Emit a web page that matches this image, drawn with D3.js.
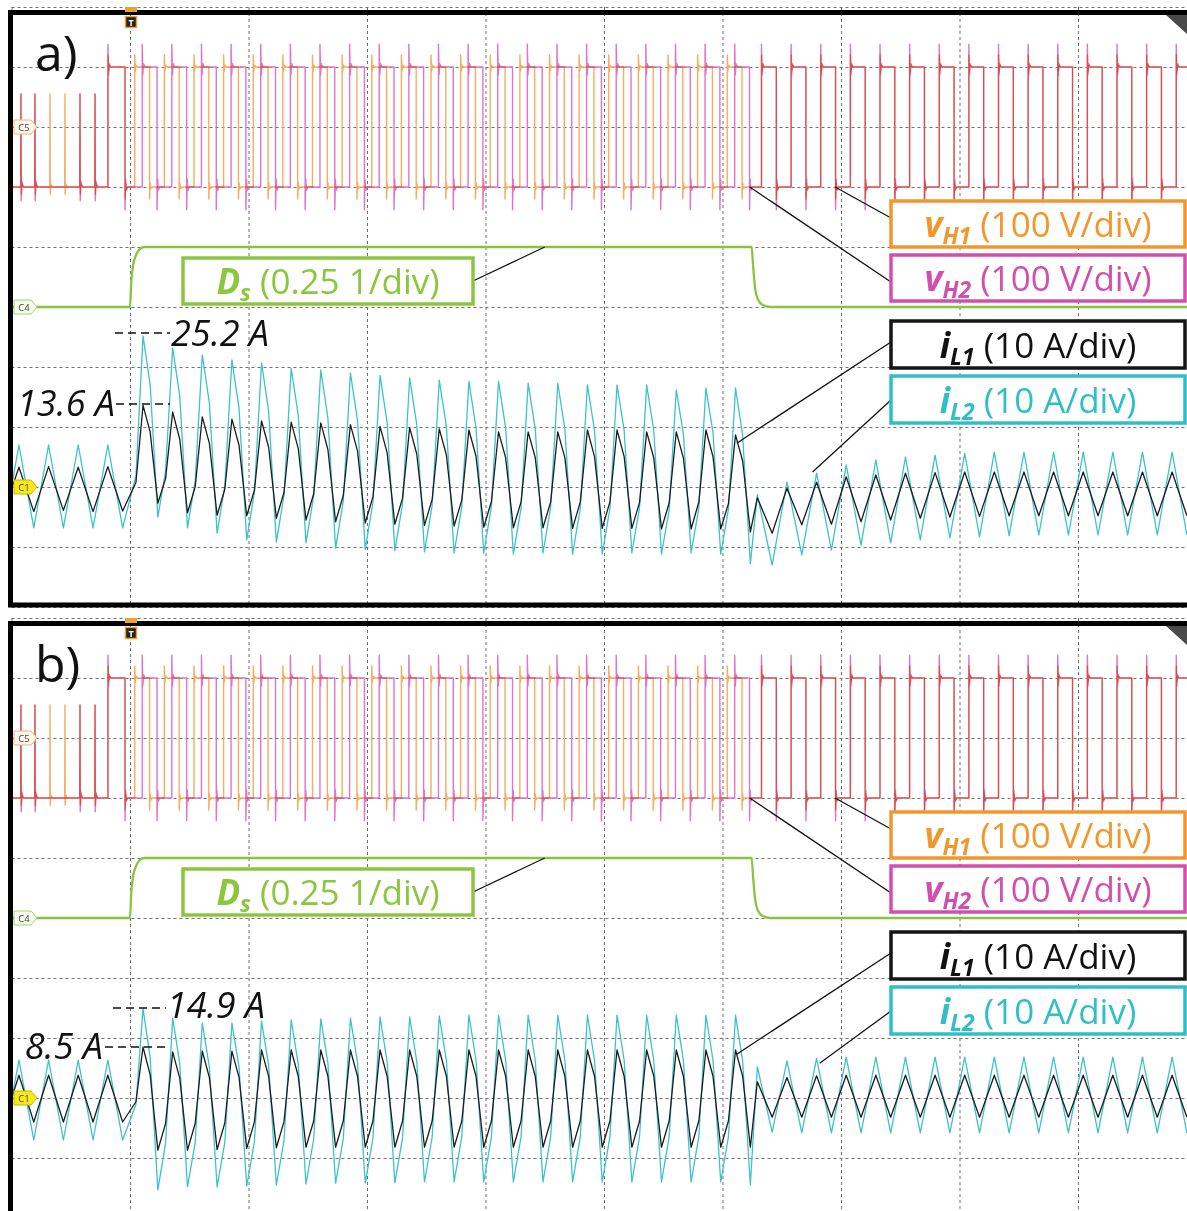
<!DOCTYPE html>
<meta charset="utf-8">
<style>
    body { margin: 0; background: #fff; }
    svg { display: block; font-family: "Open Sans", sans-serif; }
    .grid line { stroke: #707070; stroke-width: 1; stroke-dasharray: 3,3; }
    .grid path { display: none; }
    .frame { fill: none; stroke: #000; stroke-width: 5; }
    .trace { fill: none; stroke-linejoin: round; }
    .vh { mix-blend-mode: multiply; stroke-width: 1.4; }
    .box { fill: #fff; stroke-width: 3.5; }
    .lbl { font-size: 35px; text-anchor: middle; }
    .leader { stroke: #111; stroke-width: 1.3; }
    .note { font-size: 36px; font-style: italic; fill: #111; }
    .notedash { stroke: #111; stroke-width: 1.4; stroke-dasharray: 8,5; }
</style>
<svg width="1187" height="1211"></svg>
<script src="https://d3js.org/d3.v7.min.js"></script>
<script>

    // time base: 10 div across the screen, trigger at 1 div, 4 switching cycles per div
    var period = 0.25,
        preFirstValley = -0.062,
        transFirstPeak = 1.11,
        postFirstPeak = 6.294;

    // ---- panel a) inductor current extremes per switching cycle (A)
    var aIL1PrePk = [3.3, 3.4, 3.3, 3.4];
    var aIL1PreVy = [-4.0, -4.1, -3.9, -4.1, -4.0];
    var aIL1Pk = [13.6, 12.5, 11.7, 11.3, 11.0, 10.8, 10.7, 10.4, 10.1, 9.9, 9.7, 9.5, 9.2, 9.2, 9.2, 9.5, 9.5, 9.2, 9.2, 9.5, 8.7];
    var aIL1Vy = [-2.7, -4.3, -4.7, -4.8, -5.2, -5.5, -5.8, -6.0, -6.2, -6.4, -6.5, -6.7, -6.8, -6.8, -6.9, -6.9, -6.9, -7.0, -7.0, -7.0, -7.5];
    var aIL1PostPk = [-1.8, -0.2, 0.8, 1.7, 2.0, 2.3, 2.4, 2.5, 2.5, 2.5, 2.5, 2.5, 2.5, 2.5, 2.5];
    var aIL1PostVy = [-7.7, -6.3, -6.2, -5.8, -5.5, -5.2, -5.0, -4.9, -4.8, -4.8, -4.8, -4.8, -4.8, -4.8, -4.8];

    var aIL2PrePk = [7.0, 7.0, 7.0, 7.0];
    var aIL2PreVy = [-6.8, -6.8, -6.8, -6.8, -6.8];
    var aIL2Pk = [25.2, 23.2, 22.0, 21.2, 20.7, 19.8, 19.5, 19.0, 18.6, 18.2, 17.8, 17.6, 17.6, 17.3, 17.3, 17.0, 17.0, 17.0, 16.2, 16.5, 16.5];
    var aIL2Vy = [-5.0, -6.8, -7.7, -8.8, -9.2, -9.3, -10.2, -10.4, -10.6, -10.8, -11.0, -11.0, -11.2, -11.0, -11.2, -11.2, -11.0, -11.2, -11.0, -11.2, -12.8];
    var aIL2PostPk = [-1.3, 0.8, 2.3, 3.7, 4.5, 5.0, 5.3, 5.6, 5.8, 5.8, 5.8, 5.8, 5.8, 5.8, 5.8];
    var aIL2PostVy = [-13.0, -11.3, -10.5, -9.7, -9.3, -8.8, -8.5, -8.3, -8.1, -8.0, -8.0, -8.0, -8.0, -8.0, -8.0];

    // ---- panel b)
    var bIL1PrePk = [3.8, 3.8, 3.8, 3.8];
    var bIL1PreVy = [-4.0, -4.0, -4.0, -4.0, -4.0];
    var bIL1Pk = [8.5, 7.7, 7.8, 7.8, 8.0, 8.0, 8.0, 8.0, 8.0, 8.0, 8.0, 8.0, 8.0, 8.0, 8.0, 8.0, 8.0, 8.0, 8.0, 8.0, 8.0];
    var bIL1Vy = [-8.7, -8.7, -8.6, -8.4, -8.3, -8.2, -8.2, -8.2, -8.2, -8.2, -8.2, -8.2, -8.2, -8.2, -8.2, -8.2, -8.2, -8.2, -8.2, -8.2, -8.2];
    var bIL1PostPk = [2.7, 3.4, 3.7, 3.8, 3.8, 3.8, 3.8, 3.8, 3.8, 3.8, 3.8, 3.8, 3.8, 3.8, 3.8];
    var bIL1PostVy = [-3.2, -3.2, -3.2, -3.2, -3.2, -3.2, -3.2, -3.2, -3.2, -3.2, -3.2, -3.2, -3.2, -3.2, -3.2];

    var bIL2PrePk = [6.3, 6.3, 6.3, 6.3];
    var bIL2PreVy = [-7.0, -7.0, -7.0, -7.0, -7.0];
    var bIL2Pk = [14.9, 13.3, 12.5, 12.5, 12.8, 13.0, 13.2, 13.3, 13.5, 13.5, 13.7, 13.8, 13.8, 13.8, 13.8, 13.8, 13.8, 13.8, 13.8, 13.8, 13.8];
    var bIL2Vy = [-15.3, -14.8, -14.8, -14.7, -14.5, -14.3, -14.2, -14.2, -14.1, -14.0, -14.0, -14.0, -14.0, -14.0, -14.0, -14.0, -14.0, -14.0, -14.0, -14.0, -14.5];
    var bIL2PostPk = [5.2, 6.2, 6.6, 6.8, 6.8, 6.8, 6.8, 6.8, 6.8, 6.8, 6.8, 6.8, 6.8, 6.8, 6.8];
    var bIL2PostVy = [-5.7, -5.8, -5.8, -5.8, -5.8, -5.8, -5.8, -5.8, -5.8, -5.8, -5.8, -5.8, -5.8, -5.8, -5.8];

    // ---- bridge voltages (V), same in both panels
    var vhHigh = 100, vhLow = -100, prePulseTop = 55;
    var vh1PrePulse = [0.08, 0.198, 0.325, 0.451, 0.578, 0.705];
    var vh2PrePulse = [0.08, 0.198, 0.578, 0.705];
    var fullPulse = [0.814, 0.958];
    var vhSegStart = [1.0, 6.25], vhSegEnd = [6.25, 10.05];
    var vh1Phase = [0.040, 0.079], vh2Phase = [0.103, 0.079];
    var vh1Spike = 20, vh2Spike = 38;

    // ---- phase shift Ds (1)
    var dsTime  = [0, 1.0, 1.01, 1.025, 1.05, 1.08, 1.12, 6.245, 6.26, 6.275, 6.3, 6.34, 6.4, 10];
    var dsValue = [0, 0, 0.10, 0.17, 0.215, 0.24, 0.25, 0.25, 0.16, 0.08, 0.03, 0.008, 0, 0];

    var panels = [
        { name: "a)", top: 0, iL1: [aIL1PrePk, aIL1PreVy, aIL1Pk, aIL1Vy, aIL1PostPk, aIL1PostVy],
          iL2: [aIL2PrePk, aIL2PreVy, aIL2Pk, aIL2Vy, aIL2PostPk, aIL2PostVy],
          hi: "25.2 A", lo: "13.6 A", iL2Anchor: [6.76, 2.5] },
        { name: "b)", top: 611, iL1: [bIL1PrePk, bIL1PreVy, bIL1Pk, bIL1Vy, bIL1PostPk, bIL1PostVy],
          iL2: [bIL2PrePk, bIL2PreVy, bIL2Pk, bIL2Vy, bIL2PostPk, bIL2PostVy],
          hi: "14.9 A", lo: "8.5 A", iL2Anchor: [6.82, 5.8] }
    ];

    var svg = d3.select("svg");

    var x = d3.scaleLinear().domain([0, 10]).range([11.5, 1196.5]),
        yDiv = d3.scaleLinear().domain([-5, 5]).range([607, 7]);

    function yVh(v) { return yDiv(3 + v / 100); }
    function yDs(d) { return yDiv(d / 0.25); }
    function yI(i) { return yDiv(-3 + i / 10); }

    var kinkDt = 0.06, kinkRise = 0.27, kinkFall = 0.27;

    function currentPoints(s) {
        var prePk = s[0], preVy = s[1], pk = s[2], vy = s[3], postPk = s[4], postVy = s[5];
        var pts = [];
        preVy.forEach(function (v, k) {
            pts.push([preFirstValley + k * period, v]);
            if (k < prePk.length) pts.push([preFirstValley + period / 2 + k * period, prePk[k]]);
        });
        pk.forEach(function (p, k) {
            var t = transFirstPeak + k * period,
                v0 = pts[pts.length - 1][1];
            pts.push([t - kinkDt, v0 + kinkRise * (p - v0)]);
            pts.push([t, p]);
            pts.push([t + kinkDt, p - kinkFall * (p - vy[k])]);
            pts.push([t + period / 2, vy[k]]);
        });
        postPk.forEach(function (p, k) {
            var t = postFirstPeak + k * period;
            pts.push([t, p]);
            pts.push([t + period / 2, postVy[k]]);
        });
        return pts;
    }

    function highIntervals(phases) {
        var out = [fullPulse];
        vhSegStart.forEach(function (s0, j) {
            var r = phases[j] + Math.ceil((s0 - phases[j]) / period) * period;
            for (; r < vhSegEnd[j]; r += period) out.push([r, r + period / 2]);
        });
        return out;
    }

    function edge(pts, t, from, to, spike) {
        var s = to > from ? 1 : -1;
        pts.push([t, from], [t, to + s * spike], [t + 0.005, to - s * spike * 0.35],
            [t + 0.011, to + s * spike * 0.15], [t + 0.022, to]);
    }

    function vhPoints(pulses, phases, spike) {
        var pts = [[-0.1, vhLow]];
        pulses.forEach(function (t) {
            pts.push([t - 0.002, vhLow], [t, prePulseTop], [t + 0.002, vhLow - spike * 0.6],
                [t + 0.008, vhLow + spike * 0.25], [t + 0.02, vhLow]);
        });
        highIntervals(phases).forEach(function (iv) {
            edge(pts, iv[0], vhLow, vhHigh, spike);
            edge(pts, iv[1], vhHigh, vhLow, spike);
        });
        pts.push([10.2, vhLow]);
        return pts;
    }

    var line = d3.line();

    function drawPanel(P, pi) {
        var g = svg.append("g").attr("transform", "translate(0," + P.top + ")");

        g.append("clipPath").attr("id", "clip" + pi)
            .append("rect").attr("x", 12).attr("y", 14).attr("width", 1180).attr("height", 589);

        // graticule
        g.append("g").attr("class", "grid").attr("transform", "translate(0,7)")
            .call(d3.axisBottom(x).ticks(10).tickSize(600).tickFormat(""));
        g.append("g").attr("class", "grid").attr("transform", "translate(11.5,0)")
            .call(d3.axisRight(yDiv).ticks(10).tickSize(1185).tickFormat(""));

        var tr = g.append("g").attr("clip-path", "url(#clip" + pi + ")");

        // Ds
        tr.append("path").attr("class", "trace")
            .attr("stroke", "#88c43f").attr("stroke-width", 2.3)
            .attr("d", d3.line().curve(d3.curveMonotoneX)
                .x(function (d, i) { return x(dsTime[i]); })
                .y(function (d) { return yDs(d); })(dsValue));

        // bridge voltages
        tr.append("path").attr("class", "trace vh").attr("stroke", "#f6ad60")
            .attr("d", line.x(function (d) { return x(d[0]); }).y(function (d) { return yVh(d[1]); })(vhPoints(vh1PrePulse, vh1Phase, vh1Spike)));
        tr.append("path").attr("class", "trace vh").attr("stroke", "#de74cc")
            .attr("d", line(vhPoints(vh2PrePulse, vh2Phase, vh2Spike)));

        // inductor currents
        var iLine = d3.line().x(function (d) { return x(d[0]); }).y(function (d) { return yI(d[1]); });
        tr.append("path").attr("class", "trace").attr("stroke", "#3ec2c9").attr("stroke-width", 1.3)
            .attr("d", iLine(currentPoints(P.iL2)));
        tr.append("path").attr("class", "trace").attr("stroke", "#1c1c1c").attr("stroke-width", 1.3)
            .attr("d", iLine(currentPoints(P.iL1)));

        // frame
        g.append("rect").attr("class", "frame").attr("x", 10.5).attr("y", 12.5)
            .attr("width", 1200).attr("height", 592.5);
        g.append("polygon").attr("points", "1166,15 1187,15 1187,34").attr("fill", "#4a4a4a");

        // trigger marker
        g.append("rect").attr("x", 125).attr("y", 7).attr("width", 12).attr("height", 5).attr("fill", "#f0a030");
        g.append("rect").attr("x", 125.5).attr("y", 16.5).attr("width", 11).attr("height", 11)
            .attr("fill", "#222").attr("stroke", "#f0a030").attr("stroke-width", 1.5);
        g.append("text").attr("x", 131).attr("y", 25.5).attr("text-anchor", "middle")
            .attr("font-size", 9).attr("font-weight", 700).attr("fill", "#fff").text("T");

        // channel tags
        [["C5", yDiv(3), "#fff6ec", "#e9b68a"], ["C4", yDiv(0), "#f4fbea", "#a8d07c"], ["C1", yDiv(-3), "#f6e81c", "#c9b700"]]
            .forEach(function (c) {
                var y = c[1];
                g.append("polygon")
                    .attr("points", [[14, y - 7], [31, y - 7], [37, y], [31, y + 7], [14, y + 7]].join(" "))
                    .attr("fill", c[2]).attr("stroke", c[3]).attr("stroke-width", 1);
                g.append("text").attr("x", 24).attr("y", y + 3.5).attr("text-anchor", "middle")
                    .attr("font-size", 9.5).attr("fill", "#444").text(c[0]);
            });

        // panel name
        g.append("text").attr("x", 35).attr("y", 71).attr("font-size", 50).attr("fill", "#111").text(P.name);

        // peak annotations
        if (pi === 0) {
            g.append("line").attr("class", "notedash").attr("x1", 115).attr("x2", 170).attr("y1", 333).attr("y2", 333);
            g.append("text").attr("class", "note").attr("x", 171).attr("y", 346).text(P.hi);
            g.append("text").attr("class", "note").attr("x", 115).attr("y", 416).attr("text-anchor", "end").text(P.lo);
            g.append("line").attr("class", "notedash").attr("x1", 116).attr("x2", 170).attr("y1", 404).attr("y2", 404);
        } else {
            g.append("line").attr("class", "notedash").attr("x1", 113).attr("x2", 166).attr("y1", 397).attr("y2", 397);
            g.append("text").attr("class", "note").attr("x", 167).attr("y", 407).text(P.hi);
            g.append("text").attr("class", "note").attr("x", 103).attr("y", 448).attr("text-anchor", "end").text(P.lo);
            g.append("line").attr("class", "notedash").attr("x1", 105).attr("x2", 166).attr("y1", 436).attr("y2", 436);
        }

        // leader lines
        var leaders = [
            [[473, 281], [x(4.5), yDs(0.25)]],
            [[891, 218], [x(6.95), yVh(vhLow)]],
            [[891, 282], [x(6.23), yVh(vhLow)]],
            [[891, 342], [x(6.12), yI(7.3)]],
            [[891, 400], [x(P.iL2Anchor[0]), yI(P.iL2Anchor[1])]]
        ];
        leaders.forEach(function (l) {
            g.append("line").attr("class", "leader")
                .attr("x1", l[0][0]).attr("y1", l[0][1]).attr("x2", l[1][0]).attr("y2", l[1][1]);
        });

        // label boxes
        boxLabel(g, 183, 258, 290, 46, "#8cc63e", "D", "s", "(0.25 1/div)");
        boxLabel(g, 891, 201, 294, 46, "#f3962c", "v", "H1", "(100 V/div)");
        boxLabel(g, 891, 255, 294, 46, "#d24fae", "v", "H2", "(100 V/div)");
        boxLabel(g, 891, 321, 294, 47, "#151515", "i", "L1", "(10 A/div)");
        boxLabel(g, 891, 376, 294, 47, "#2fbfc6", "i", "L2", "(10 A/div)");
    }

    function boxLabel(g, x0, y0, w, h, color, main, sub, rest) {
        g.append("rect").attr("class", "box").attr("x", x0).attr("y", y0)
            .attr("width", w).attr("height", h).attr("stroke", color);
        var t = g.append("text").attr("class", "lbl").attr("x", x0 + w / 2).attr("y", y0 + h - 10)
            .attr("fill", color === "#151515" ? "#111" : color);
        t.append("tspan").attr("font-weight", 700).attr("font-style", "italic").text(main);
        t.append("tspan").attr("font-weight", 700).attr("font-style", "italic")
            .attr("font-size", "23px").attr("dy", 7).text(sub);
        t.append("tspan").attr("dy", -7).text(" " + rest);
    }

    panels.forEach(drawPanel);

</script>
